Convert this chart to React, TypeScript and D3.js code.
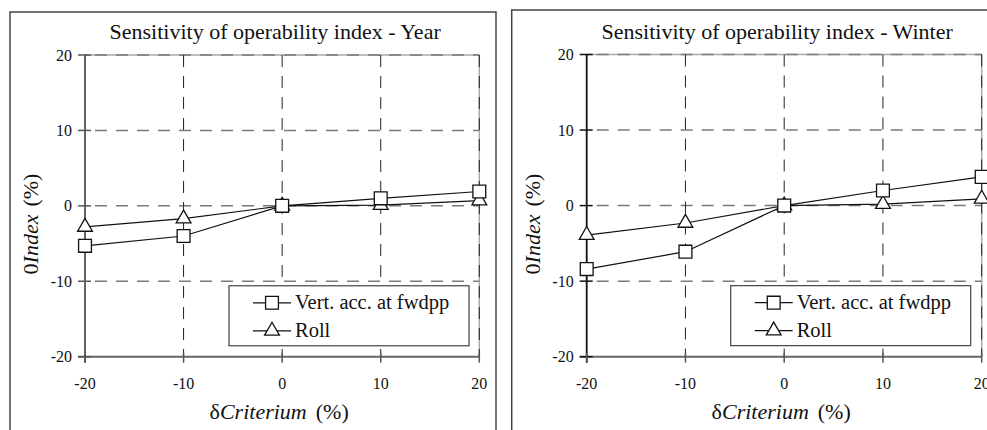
import React from "react";
import * as d3 from "d3";

// Sensitivity of the operability index to a change of the limiting criterion
const criteriumSteps = [-20, -10, 0, 10, 20];
const axisTicks = [-20, -10, 0, 10, 20];

const yearVertAcc = [-5.3, -4.0, 0, 1.0, 1.9];
const yearRoll = [-2.8, -1.7, 0, 0.1, 0.7];

const winterVertAcc = [-8.4, -6.1, 0, 2.0, 3.8];
const winterRoll = [-3.9, -2.3, 0, 0.2, 0.9];

const seriesNames = ["Vert. acc. at fwdpp", "Roll"];

const FONT = "Liberation Serif";

type PanelProps = {
  title: string;
  vert: number[];
  roll: number[];
  frame: { x: number; y: number; w: number; h: number };
  plot: { left: number; right: number; top: number; bottom: number };
  axisColor: string;
};

const squarePath = d3.symbol(d3.symbolSquare, 165)() as string;
const trianglePath = d3.symbol(d3.symbolTriangle, 95)() as string;

function Panel({ title, vert, roll, frame, plot, axisColor }: PanelProps) {
  const x = d3.scaleLinear().domain([-20, 20]).range([plot.left, plot.right]);
  const y = d3.scaleLinear().domain([-20, 20]).range([plot.bottom, plot.top]);
  const line = d3
    .line<number>()
    .x((_, i) => x(criteriumSteps[i]))
    .y((d) => y(d));
  const cx = (plot.left + plot.right) / 2;
  const legendX = x(-20) + 144;
  const legendY = y(-10) + 4.5;

  return (
    <g>
      <rect
        x={frame.x}
        y={frame.y}
        width={frame.w}
        height={frame.h}
        fill="white"
        stroke="#444"
        strokeWidth={1.5}
      />
      <text x={cx - 7} y={39} textAnchor="middle" fontFamily={FONT} fontSize={22} fill="#111">
        {title}
      </text>

      {/* plot box */}
      <line x1={plot.left} x2={plot.right} y1={plot.top} y2={plot.top} stroke="#aaa" strokeWidth={1.5} />
      <line x1={plot.right} x2={plot.right} y1={plot.top} y2={plot.bottom} stroke="#aaa" strokeWidth={1.5} />

      {/* grid */}
      {axisTicks.slice(1).map((t) => (
        <line
          key={"h" + t}
          x1={plot.left}
          x2={plot.right}
          y1={y(t)}
          y2={y(t)}
          stroke="#7a7a7a"
          strokeWidth={1.5}
          strokeDasharray="12,9"
          strokeDashoffset={-10}
        />
      ))}
      {axisTicks.slice(1).map((t) => (
        <line
          key={"v" + t}
          x1={x(t)}
          x2={x(t)}
          y1={plot.top}
          y2={plot.bottom}
          stroke="#222"
          strokeWidth={1}
          strokeDasharray="12,9"
        />
      ))}

      {/* axes */}
      <line x1={plot.left} x2={plot.left} y1={plot.top} y2={plot.bottom + 6} stroke={axisColor} strokeWidth={1.8} />
      <line x1={plot.left - 7} x2={plot.right} y1={plot.bottom} y2={plot.bottom} stroke="#666" strokeWidth={2} />
      {axisTicks.map((t) => (
        <line key={"yt" + t} x1={plot.left - 7} x2={plot.left + 6} y1={y(t)} y2={y(t)} stroke={axisColor} strokeWidth={1.5} />
      ))}
      {axisTicks.map((t) => (
        <line key={"xt" + t} x1={x(t)} x2={x(t)} y1={plot.bottom - 4} y2={plot.bottom + 6} stroke="#555" strokeWidth={1.5} />
      ))}

      {axisTicks.map((t) => (
        <text key={"yl" + t} x={plot.left - 13} y={y(t) + 5.5} textAnchor="end" fontFamily={FONT} fontSize={16} fill="#111">
          {String(t)}
        </text>
      ))}
      {axisTicks.map((t) => (
        <text key={"xl" + t} x={x(t)} y={389} textAnchor="middle" fontFamily={FONT} fontSize={16} fill="#111">
          {String(t)}
        </text>
      ))}

      {/* axis titles */}
      <text
        transform={`translate(${frame.x + 28},224) rotate(-90)`}
        textAnchor="middle"
        fontFamily={FONT}
        fontSize={22}
        fill="#111"
      >
        <tspan>0</tspan>
        <tspan fontStyle="italic">Index</tspan>
        <tspan dx={8}>(%)</tspan>
      </text>
      <text x={cx - 3} y={419} textAnchor="middle" fontFamily={FONT} fontSize={22} fill="#111">
        <tspan>δ</tspan>
        <tspan fontStyle="italic">Criterium</tspan>
        <tspan dx={9}>(%)</tspan>
      </text>

      {/* series */}
      <path d={line(vert) ?? ""} fill="none" stroke="#111" strokeWidth={1.2} />
      <path d={line(roll) ?? ""} fill="none" stroke="#111" strokeWidth={1.2} />
      {roll.map((v, i) => (
        <path
          key={"r" + i}
          d={trianglePath}
          transform={`translate(${x(criteriumSteps[i])},${y(v)})`}
          fill="white"
          stroke="#111"
          strokeWidth={1.3}
        />
      ))}
      {vert.map((v, i) => (
        <path
          key={"s" + i}
          d={squarePath}
          transform={`translate(${x(criteriumSteps[i])},${y(v)})`}
          fill="white"
          stroke="#111"
          strokeWidth={1.3}
        />
      ))}

      {/* legend */}
      <rect x={legendX} y={legendY} width={240} height={60} fill="white" stroke="#444" strokeWidth={1.2} />
      {seriesNames.map((name, i) => {
        const ry = legendY + 17 + i * 28;
        return (
          <g key={name}>
            <line x1={legendX + 24} x2={legendX + 62} y1={ry} y2={ry} stroke="#111" strokeWidth={1.2} />
            <path
              d={i === 0 ? squarePath : trianglePath}
              transform={`translate(${legendX + 43},${ry})`}
              fill="white"
              stroke="#111"
              strokeWidth={1.3}
            />
            <text x={legendX + 66} y={ry + 6} fontFamily={FONT} fontSize={20.5} fill="#111">
              {name}
            </text>
          </g>
        );
      })}
    </g>
  );
}

export default function App() {
  return (
    <div style={{ position: "absolute", left: 0, top: 0, width: 987, height: 430 }}>
      <svg width={987} height={430} fontFamily={FONT}>
        <rect x={0} y={0} width={987} height={430} fill="white" />
        <Panel
          title="Sensitivity of operability index - Year"
          vert={yearVertAcc}
          roll={yearRoll}
          frame={{ x: 10, y: 12, w: 486, h: 440 }}
          plot={{ left: 85, right: 479.3, top: 55, bottom: 356.7 }}
          axisColor="#555"
        />
        <Panel
          title="Sensitivity of operability index - Winter"
          vert={winterVertAcc}
          roll={winterRoll}
          frame={{ x: 511.7, y: 10, w: 500, h: 440 }}
          plot={{ left: 586.7, right: 981.7, top: 54.5, bottom: 356.7 }}
          axisColor="#111"
        />
      </svg>
    </div>
  );
}
